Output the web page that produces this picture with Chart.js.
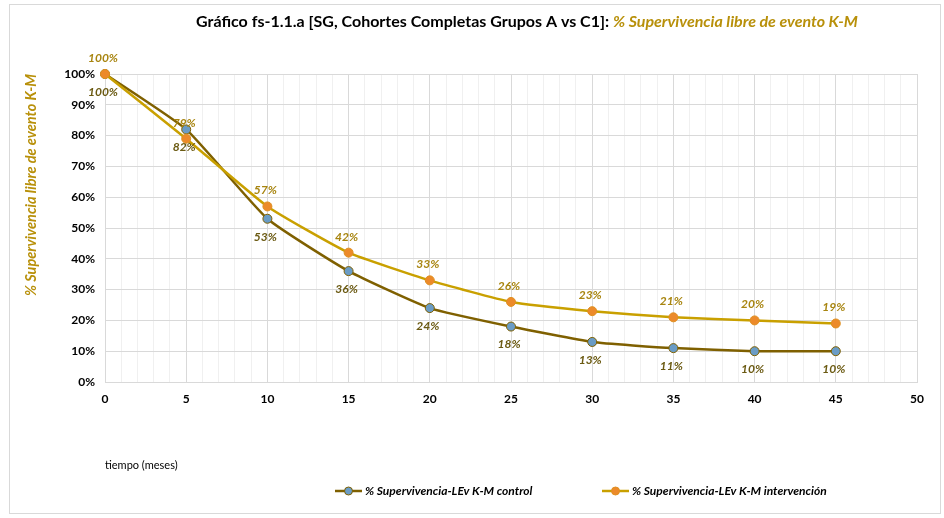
<!DOCTYPE html>
<html>
<head>
<meta charset="utf-8">
<script src="https://cdn.jsdelivr.net/npm/chart.js@4.4.1/dist/chart.umd.min.js"></script>
<style>
  html, body { margin: 0; padding: 0; background: #fff; }
  #wrap { width: 944px; height: 518px; }
</style>
</head>
<body>
<div id="wrap"><canvas id="km_chart" width="944" height="518"></canvas></div>
<script>
// meses de seguimiento y % supervivencia libre de evento (K-M)
var meses = [0, 5, 10, 15, 20, 25, 30, 35, 40, 45];
var supControl = [100, 82, 53, 36, 24, 18, 13, 11, 10, 10];
var supIntervencion = [100, 79, 57, 42, 33, 26, 23, 21, 20, 19];
var yTicks = [0, 10, 20, 30, 40, 50, 60, 70, 80, 90, 100];

var FONT = "Lato, 'Open Sans', sans-serif";
var OLIVE = '#7f6000';
var GOLD = '#c9a000';

function toPoints(vals) {
    return vals.map(function (v, i) { return { x: meses[i], y: v }; });
}

// marco exterior y fondo blanco
var marco = {
    id: 'marco',
    beforeDraw: function (chart) {
        var c = chart.ctx;
        c.save();
        c.fillStyle = '#fff';
        c.fillRect(0, 0, chart.width, chart.height);
        c.strokeStyle = '#d9d9d9';
        c.lineWidth = 1;
        c.strokeRect(9.5, 4.5, 931, 509);
        c.restore();
    }
};

// titulo en dos estilos
var titulo = {
    id: 'titulo',
    afterDraw: function (chart) {
        var c = chart.ctx;
        var t1 = 'Gráfico fs-1.1.a [SG, Cohortes Completas Grupos A vs C1]: ';
        var t2 = '% Supervivencia libre de evento K-M';
        c.save();
        c.textBaseline = 'middle';
        c.font = 'bold 16px ' + FONT;
        var w1 = c.measureText(t1).width;
        c.font = 'italic bold 16px ' + FONT;
        var w2 = c.measureText(t2).width;
        var x = 527 - (w1 + w2) / 2;
        c.font = 'bold 16px ' + FONT;
        c.fillStyle = '#000';
        c.fillText(t1, x, 22);
        c.font = 'italic bold 16px ' + FONT;
        c.fillStyle = '#b8900a';
        c.fillText(t2, x + w1, 22);
        c.restore();
    }
};

// etiquetas de valor sobre/bajo cada punto
var etiquetas = {
    id: 'etiquetas',
    afterDatasetsDraw: function (chart) {
        var c = chart.ctx;
        c.save();
        c.font = 'italic bold 12px ' + FONT;
        c.textAlign = 'center';
        c.textBaseline = 'middle';
        chart.data.datasets.forEach(function (ds, di) {
            var meta = chart.getDatasetMeta(di);
            var dy = di === 0 ? 18 : -16;
            c.fillStyle = di === 0 ? '#6b5a12' : '#a88510';
            meta.data.forEach(function (pt, i) {
                c.fillText(ds.data[i].y + '%', pt.x - 2, pt.y + dy);
            });
        });
        c.restore();
    }
};

// leyenda: linea con marcador y texto
var leyenda = {
    id: 'leyenda',
    afterDraw: function (chart) {
        var c = chart.ctx;
        var xs = [335, 602];
        var cy = 491;
        c.save();
        c.textBaseline = 'middle';
        c.font = 'italic bold 12px ' + FONT;
        chart.data.datasets.forEach(function (ds, i) {
            var x = xs[i];
            c.strokeStyle = ds.borderColor;
            c.lineWidth = 2.5;
            c.beginPath();
            c.moveTo(x, cy);
            c.lineTo(x + 27, cy);
            c.stroke();
            c.beginPath();
            c.arc(x + 13.5, cy, 4, 0, Math.PI * 2);
            c.fillStyle = ds.pointBackgroundColor;
            c.fill();
            c.lineWidth = 1;
            c.strokeStyle = ds.pointBorderColor;
            c.stroke();
            c.fillStyle = '#000';
            c.fillText(ds.label, x + 30, cy);
        });
        c.restore();
    }
};

var ctx = document.getElementById('km_chart').getContext('2d');
var kmChart = new Chart(ctx, {
    type: 'line',
    data: {
        datasets: [{
            label: '% Supervivencia-LEv K-M control',
            data: toPoints(supControl),
            borderColor: OLIVE,
            borderWidth: 2.5,
            pointBackgroundColor: '#6a9cc6',
            pointBorderColor: OLIVE,
            pointBorderWidth: 1,
            pointRadius: 4.5,
            tension: 0.15,
            clip: false,
            order: 1
        }, {
            label: '% Supervivencia-LEv K-M intervención',
            data: toPoints(supIntervencion),
            borderColor: GOLD,
            borderWidth: 2.5,
            pointBackgroundColor: '#ec8a2a',
            pointBorderColor: '#e09020',
            pointBorderWidth: 1,
            pointRadius: 4.5,
            tension: 0.15,
            clip: false,
            order: 0
        }]
    },
    options: {
        responsive: false,
        animation: false,
        layout: { padding: { top: 74, left: 20, right: 27, bottom: 44 } },
        scales: {
            x: {
                type: 'linear',
                min: 0,
                max: 50,
                afterFit: function (s) { s.height = 92; },
                ticks: {
                    stepSize: 1,
                    autoSkip: false,
                    maxRotation: 0,
                    padding: 10,
                    color: '#000',
                    font: { family: FONT, size: 12, weight: 'bold' },
                    callback: function (v) { return v % 5 === 0 ? v : ''; }
                },
                grid: {
                    drawTicks: false,
                    color: function (c) { return c.tick && c.tick.value % 5 === 0 ? '#d9d9d9' : '#f0f0f0'; }
                },
                border: { color: '#d9d9d9' },
                title: {
                    display: true,
                    text: 'tiempo (meses)',
                    align: 'start',
                    color: '#000',
                    font: { family: FONT, size: 11 },
                    padding: { top: 0, bottom: 2 }
                }
            },
            y: {
                min: 0,
                max: 100,
                afterFit: function (s) { s.width = 85; },
                afterBuildTicks: function (s) { s.ticks = yTicks.map(function (v) { return { value: v }; }); },
                ticks: {
                    padding: 10,
                    color: '#000',
                    font: { family: FONT, size: 12, weight: 'bold' },
                    callback: function (v) { return v + '%'; }
                },
                grid: { drawTicks: false, color: '#d9d9d9' },
                border: { color: '#d9d9d9' },
                title: {
                    display: true,
                    text: '% Supervivencia libre de evento K-M',
                    align: 'end',
                    color: '#b8900a',
                    font: { family: FONT, size: 14.5, style: 'italic', weight: 'bold' },
                    padding: { top: 3, bottom: 0 }
                }
            }
        },
        plugins: {
            title: { display: false },
            tooltip: { enabled: false },
            legend: { display: false }
        }
    },
    plugins: [marco, titulo, etiquetas, leyenda]
});
</script>
</body>
</html>
